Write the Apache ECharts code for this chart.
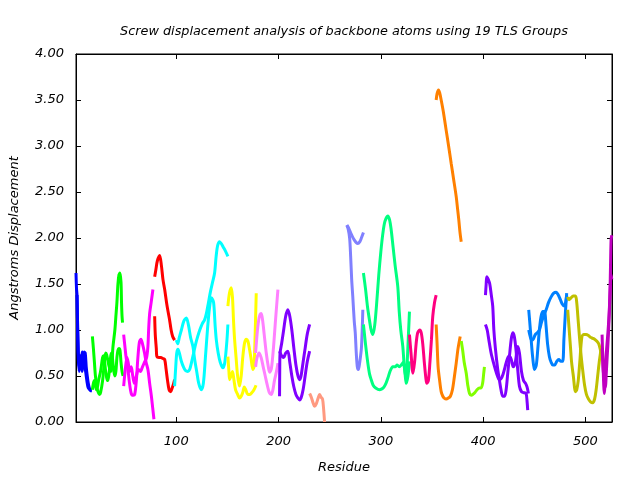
<!DOCTYPE html>
<html><head><meta charset="utf-8">
<script src="https://cdn.jsdelivr.net/npm/echarts@6/dist/echarts.min.js"></script>
<style>html,body{margin:0;padding:0;background:#fff}#c{width:640px;height:480px}</style>
</head><body><div id="c"></div>
<script>
const titleText = "Screw displacement analysis of backbone atoms using 19 TLS Groups";
const xTicks = [100, 200, 300, 400, 500];
const yTicks = [0, 0.5, 1, 1.5, 2, 2.5, 3, 3.5, 4];

const blueA = [[2,1.62],[2.5,1.45],[3,1.38],[3.5,1.1],[4,0.9],[5,0.6],[6,0.72],[7,0.62],[8,0.76],[9,0.74],[10,0.62],[11,0.58],[12,0.5],[13,0.42],[14,0.37],[16,0.35],[17,0.34]];
const blueB = [[3,1.38],[3.5,1.03],[4,0.75],[5,0.55],[6,0.68],[7,0.7],[8,0.55],[9,0.62],[10,0.76],[11,0.75],[12,0.6],[13,0.5],[14,0.42],[15,0.37],[16,0.34],[17.5,0.34]];
const greenA = [[18,0.93],[19,0.8],[20,0.65],[21,0.5],[22,0.42],[23,0.35],[25,0.3],[26,0.32],[28,0.45],[30,0.68],[31,0.75],[32,0.73],[34,0.62],[35,0.58],[36,0.55],[37,0.6],[38,0.8],[40,1.0],[41,1.15],[42,1.3],[43,1.5],[44,1.6],[45,1.62],[46,1.52],[46.5,1.3],[47,1.15],[47.5,1.08]];
const greenB = [[18,0.35],[19,0.42],[20,0.45],[21,0.4],[22,0.35],[23,0.38],[24,0.45],[26,0.55],[28,0.7],[29,0.72],[30,0.65],[31,0.55],[32,0.48],[33,0.45],[34,0.5],[35,0.6],[36,0.72],[37,0.75],[38,0.65],[39,0.55],[40,0.5],[41,0.55],[42,0.7],[43,0.78],[44,0.8],[45,0.78],[46,0.65],[47,0.55],[48,0.5]];
const magentaA = [[48.6,0.95],[50,0.8],[51,0.7],[52.8,0.57],[54,0.45],[56,0.31],[58,0.29],[59.4,0.3],[61,0.45],[62.5,0.7],[64,0.87],[65.5,0.9],[67,0.85],[69,0.75],[70.5,0.65],[72.3,0.57],[74,0.42],[75.7,0.28],[77,0.15],[78.2,0.03]];
const magentaB = [[48.6,0.39],[50,0.55],[51.8,0.7],[53,0.65],[54.5,0.55],[56,0.6],[57.5,0.5],[59,0.42],[61,0.5],[63,0.57],[65,0.55],[67,0.6],[69,0.65],[71,0.7],[72.3,0.82],[73,1.0],[74,1.18],[75.5,1.3],[77.2,1.44]];
const redA = [[78.9,1.58],[80,1.65],[81.5,1.75],[83.8,1.81],[85.5,1.7],[87,1.55],[88.7,1.44],[90.5,1.3],[92,1.2],[93.5,1.11],[95,1.0],[96.5,0.93],[98.4,0.89]];
const redB = [[78.9,1.15],[79.5,0.95],[80.5,0.8],[81.1,0.71],[83,0.7],[85,0.7],[87,0.69],[88.7,0.68],[90,0.58],[91.5,0.45],[93,0.35],[94.5,0.33],[96,0.37],[97.5,0.42],[98.4,0.46]];
const cyanA = [[100,0.89],[101.5,0.85],[103,0.92],[105,1.0],[107.5,1.1],[109.9,1.13],[112,1.05],[114,0.92],[116.3,0.82],[118,0.68],[120,0.55],[122,0.42],[124.5,0.35],[126.5,0.42],[128.5,0.7],[130.5,1.0],[132.6,1.25],[134.5,1.35],[136.5,1.3],[138,1.05],[139.2,0.89],[141,0.75],[143,0.65],[145.6,0.59],[147.5,0.65],[149.5,0.88],[150.5,1.06]];
const cyanB = [[98.4,0.39],[99.5,0.6],[100.5,0.75],[101.7,0.79],[103,0.75],[105,0.66],[107,0.6],[109,0.56],[111.4,0.55],[113.1,0.57],[115,0.65],[117,0.75],[119,0.85],[121,0.93],[123,1.0],[125.5,1.07],[127.7,1.11],[129.5,1.18],[131.5,1.3],[133.5,1.42],[135.5,1.52],[137.5,1.62],[139,1.8],[140.5,1.92],[142.4,1.96],[144,1.94],[146,1.9],[148,1.86],[150.5,1.8]];
const yellowA = [[150.5,1.26],[152,1.4],[153.8,1.46],[155,1.35],[156,1.1],[157.1,0.89],[158.5,0.7],[160,0.5],[161.9,0.39],[163.5,0.5],[165,0.7],[166.8,0.86],[168.5,0.9],[170,0.88],[171.5,0.8],[173,0.7],[174.9,0.57],[176,0.6],[177,0.9],[178.2,1.4]];
const yellowB = [[150.5,0.71],[151.5,0.55],[152.2,0.46],[153.5,0.5],[155,0.55],[156.5,0.45],[158,0.35],[160,0.3],[161.9,0.26],[163.5,0.28],[165,0.32],[166.5,0.38],[168,0.35],[170,0.3],[172,0.3],[174,0.32],[176,0.35],[178,0.4]];
const pinkA = [[177.6,0.75],[179,0.95],[180.5,1.1],[182,1.17],[183.1,1.18],[184.5,1.1],[186,0.95],[188,0.75],[190,0.6],[191.3,0.54],[193,0.58],[195,0.8],[197,1.1],[199.4,1.44]];
const pinkB = [[177.6,0.6],[179,0.7],[181,0.75],[183,0.7],[185,0.6],[187,0.5],[189,0.4],[191,0.32],[192.9,0.3],[194.5,0.35],[196,0.45],[198,0.55],[199.4,0.64]];
const purpleA = [[201,0.28],[201.2,0.6],[201.5,0.75],[203,0.85],[205,1.0],[207,1.15],[209.1,1.22],[211,1.15],[213,1.0],[215,0.8],[217,0.62],[219,0.5],[220.6,0.46],[222,0.5],[224,0.65],[226,0.8],[228,0.95],[230.4,1.06]];
const purpleB = [[201,0.77],[203,0.72],[205,0.7],[207,0.75],[209.1,0.77],[211,0.65],[213,0.5],[215,0.38],[217,0.3],[219,0.26],[220.6,0.24],[222,0.26],[224,0.35],[226,0.5],[228,0.65],[230.4,0.77]];
const salmonA = [[230.4,0.31],[232,0.27],[234,0.2],[235.2,0.17],[237,0.2],[239,0.27],[240.1,0.3],[241.5,0.27],[243,0.25],[244,0.15],[245,0.0]];
const periA = [[266.8,2.14],[268,2.12],[270,2.07],[272,2.02],[274,1.98],[276,1.95],[277.5,1.94],[279.5,1.96],[281,2.0],[283,2.06]];
const periB = [[266.8,2.14],[268,2.1],[269.5,2.0],[270.5,1.8],[271.5,1.55],[272.6,1.36],[274,1.1],[275,0.97],[276,0.75],[277,0.6],[278,0.57],[279,0.62],[280,0.7],[281,0.8],[281.8,1.0],[282.4,1.22]];
const springA = [[283,1.62],[285,1.45],[287,1.25],[289,1.1],[290.5,1.0],[292.2,0.95],[294,1.05],[296,1.3],[298,1.6],[300,1.85],[302,2.05],[304,2.18],[306.8,2.24],[308.5,2.2],[310,2.1],[312,1.9],[314,1.7],[316.6,1.47],[318,1.2],[319.5,1.0],[321.5,0.82],[323,0.6],[324.8,0.46],[326,0.7],[327,0.95],[328,1.2]];
const springB = [[283,1.06],[285,0.85],[287.3,0.64],[289,0.52],[290.6,0.46],[292.5,0.4],[295,0.37],[298.7,0.35],[301,0.36],[303,0.38],[305,0.42],[307,0.48],[309,0.55],[311.7,0.6],[314,0.6],[316,0.62],[318,0.6],[320,0.62],[322,0.65],[323.5,0.55],[324.8,0.42],[326.5,0.5],[328,0.66]];
const deepPinkA = [[328,0.95],[329.5,0.75],[331.4,0.53],[333,0.65],[334.5,0.85],[336,0.97],[338,1.0],[339.5,0.97],[341,0.85],[342.5,0.65],[344,0.48],[345,0.42],[346.5,0.45],[348,0.65],[349.5,0.9],[350.8,1.15],[352.5,1.3],[354.1,1.38]];
const orangeA = [[354.1,3.5],[355,3.57],[356.4,3.61],[357.5,3.58],[359,3.5],[361,3.38],[363.9,3.17],[366,3.02],[368.8,2.81],[371,2.65],[373.7,2.45],[375,2.32],[376.2,2.2],[377.5,2.05],[378.6,1.96]];
const orangeB = [[354.1,1.06],[355,0.85],[356,0.6],[357.4,0.46],[359,0.33],[360.6,0.28],[362,0.26],[363.9,0.25],[366,0.26],[368,0.28],[370,0.35],[372,0.5],[373.7,0.64],[375.5,0.8],[377.6,0.93]];
const chartreuseA = [[378.6,0.88],[380,0.78],[381.5,0.65],[383.5,0.53],[385,0.4],[386.7,0.31],[388.5,0.29],[390,0.3],[392,0.32],[394,0.35],[396.4,0.37],[398,0.37],[399.5,0.42],[400.5,0.52],[401.3,0.6]];
const violetA = [[402.3,1.38],[403,1.5],[403.6,1.58],[405,1.55],[406.5,1.5],[408,1.38],[409.4,1.26],[410.5,1.0],[412,0.8],[414.3,0.57],[416,0.45],[417.5,0.35],[419.2,0.28],[421,0.28],[422.5,0.35],[424,0.52],[425.7,0.71],[427.5,0.9],[429,0.97],[430.5,0.93],[432,0.8],[434,0.55],[435.5,0.39],[437.5,0.33],[439.5,0.32],[442,0.31],[443,0.22],[443.6,0.13]];
const violetB = [[402.3,1.06],[404,1.0],[405.5,0.9],[407.8,0.75],[410,0.65],[412,0.57],[414,0.5],[415.9,0.46],[417.5,0.47],[419.5,0.52],[421.5,0.6],[423.5,0.68],[425.5,0.72],[427.5,0.68],[429.5,0.6],[431.5,0.65],[433.9,0.82],[435.5,0.75],[437.5,0.55],[439.5,0.45],[441.5,0.42],[443,0.38],[444.3,0.31]];
const azureA = [[444.6,1.22],[445.5,1.1],[447,0.89],[448.5,0.7],[450.2,0.57],[452,0.62],[453.5,0.8],[455,1.0],[456.7,1.15],[458.5,1.2],[460,1.2],[461.5,1.05],[463,0.85],[464.8,0.71],[466.5,0.65],[468.1,0.62],[470,0.62],[472,0.66],[474,0.68],[476,0.66],[477.8,0.66],[479,0.9],[480.5,1.2],[481.7,1.4]];
const azureB = [[444.6,1.0],[446,0.93],[447.5,0.89],[449,0.9],[451,0.95],[453,0.97],[455,1.0],[457,1.08],[459,1.15],[461.6,1.22],[464,1.3],[466.5,1.36],[469,1.4],[471.4,1.41],[473.5,1.38],[475.5,1.33],[477.5,1.28],[479.5,1.26],[481.7,1.38]];
const oliveA = [[482.7,1.36],[484,1.33],[486,1.35],[488,1.37],[490.3,1.37],[491.5,1.3],[492.6,1.15],[494,0.95],[495.9,0.71],[497.5,0.55],[499.2,0.4],[501,0.3],[503,0.25],[505,0.22],[507.1,0.21],[509,0.25],[510.5,0.35],[512,0.5],[513.5,0.65],[515.3,0.79]];
const oliveB = [[482.7,1.22],[483.5,1.1],[484.5,0.95],[485.5,0.8],[486.5,0.65],[488.2,0.5],[490.3,0.33],[491.5,0.35],[493,0.45],[494.5,0.65],[496.6,0.93],[498.5,0.95],[500.6,0.95],[503,0.94],[505,0.92],[507.1,0.91],[509,0.9],[511,0.88],[513,0.85],[515.3,0.75]];
const darkMagA = [[516.3,0.95],[517,0.7],[518.5,0.31],[519.5,0.5],[520.2,0.71],[521.5,0.9],[522.5,1.05],[523.4,1.22],[524.2,1.5],[525.1,1.98],[525.8,2.03]];
const darkMagB = [[516.3,0.8],[517.5,0.55],[518.5,0.45],[519.5,0.38],[520.5,0.55],[521.5,0.75],[522.5,0.95],[523.4,1.2],[524.5,1.51],[525.1,1.6],[525.8,1.55]];

const curves = [
  [blueA,'#0000ff'],[blueB,'#0000ff'],
  [greenA,'#00ff00'],[greenB,'#00ff00'],
  [magentaA,'#ff00ff'],[magentaB,'#ff00ff'],
  [redA,'#ff0000'],[redB,'#ff0000'],
  [cyanA,'#00ffff'],[cyanB,'#00ffff'],
  [yellowA,'#ffff00'],[yellowB,'#ffff00'],
  [pinkA,'#ff80ff'],[pinkB,'#ff80ff'],
  [purpleA,'#8000ff'],[purpleB,'#8000ff'],
  [salmonA,'#ff9980'],
  [periA,'#8080ff'],[periB,'#8080ff'],
  [springA,'#00ff80'],[springB,'#00ff80'],
  [deepPinkA,'#ff0080'],
  [orangeA,'#ff8000'],[orangeB,'#ff8000'],
  [chartreuseA,'#80ff00'],
  [violetA,'#8000ff'],[violetB,'#8000ff'],
  [azureA,'#0080ff'],[azureB,'#0080ff'],
  [oliveA,'#c0c000'],[oliveB,'#c0c000'],
  [darkMagA,'#c000c0'],[darkMagB,'#c000c0']
];

const FONT = '"DejaVu Sans", sans-serif';
const chart = echarts.init(document.getElementById('c'), null, {renderer:'canvas'});
chart.setOption({
  animation:false,
  backgroundColor:'#fff',
  title:{text:titleText, left:339, top:20, textAlign:'center',
    textStyle:{fontFamily:FONT, fontStyle:'italic', fontWeight:'normal', fontSize:12.8, color:'#000'}},
  grid:{left:76, right:28, top:54, bottom:58, show:true, borderColor:'#000', borderWidth:1, backgroundColor:'transparent'},
  xAxis:[{type:'value', min:2, max:526, position:'bottom',
    name:'Residue', nameLocation:'middle', nameGap:39,
    nameTextStyle:{fontFamily:FONT, fontStyle:'italic', fontSize:13, color:'#000'},
    axisLine:{show:true, onZero:false, lineStyle:{color:'#000', width:1}},
    axisTick:{show:true, inside:true, length:5, customValues:xTicks, lineStyle:{color:'#000'}},
    axisLabel:{customValues:xTicks, margin:13, fontFamily:FONT, fontStyle:'italic', fontSize:13, color:'#000'},
    splitLine:{show:false}},
   {type:'value', min:2, max:526, position:'top',
    axisLine:{show:true, onZero:false, lineStyle:{color:'#000', width:1}},
    axisTick:{show:true, inside:true, length:5, customValues:xTicks, lineStyle:{color:'#000'}},
    axisLabel:{show:false}, splitLine:{show:false}}],
  yAxis:[{type:'value', min:0, max:4, interval:0.5, position:'left',
    name:'Angstroms Displacement', nameLocation:'middle', nameGap:55, nameRotate:90,
    nameTextStyle:{fontFamily:FONT, fontStyle:'italic', fontSize:13, color:'#000'},
    axisLine:{show:true, lineStyle:{color:'#000', width:1}},
    axisTick:{show:true, inside:true, length:5, lineStyle:{color:'#000'}},
    axisLabel:{margin:12, formatter:v=>v.toFixed(2), fontFamily:FONT, fontStyle:'italic', fontSize:13, color:'#000'},
    splitLine:{show:false}},
   {type:'value', min:0, max:4, interval:0.5, position:'right',
    axisLine:{show:true, lineStyle:{color:'#000', width:1}},
    axisTick:{show:true, inside:true, length:5, lineStyle:{color:'#000'}},
    axisLabel:{show:false}, splitLine:{show:false}}],
  series: curves.map(([d,c])=>({type:'line', data:d, xAxisIndex:0, yAxisIndex:0,
    showSymbol:false, smooth:0.3, lineStyle:{color:c, width:3}, itemStyle:{color:c},
    clip:true, silent:true}))
});
</script></body></html>
